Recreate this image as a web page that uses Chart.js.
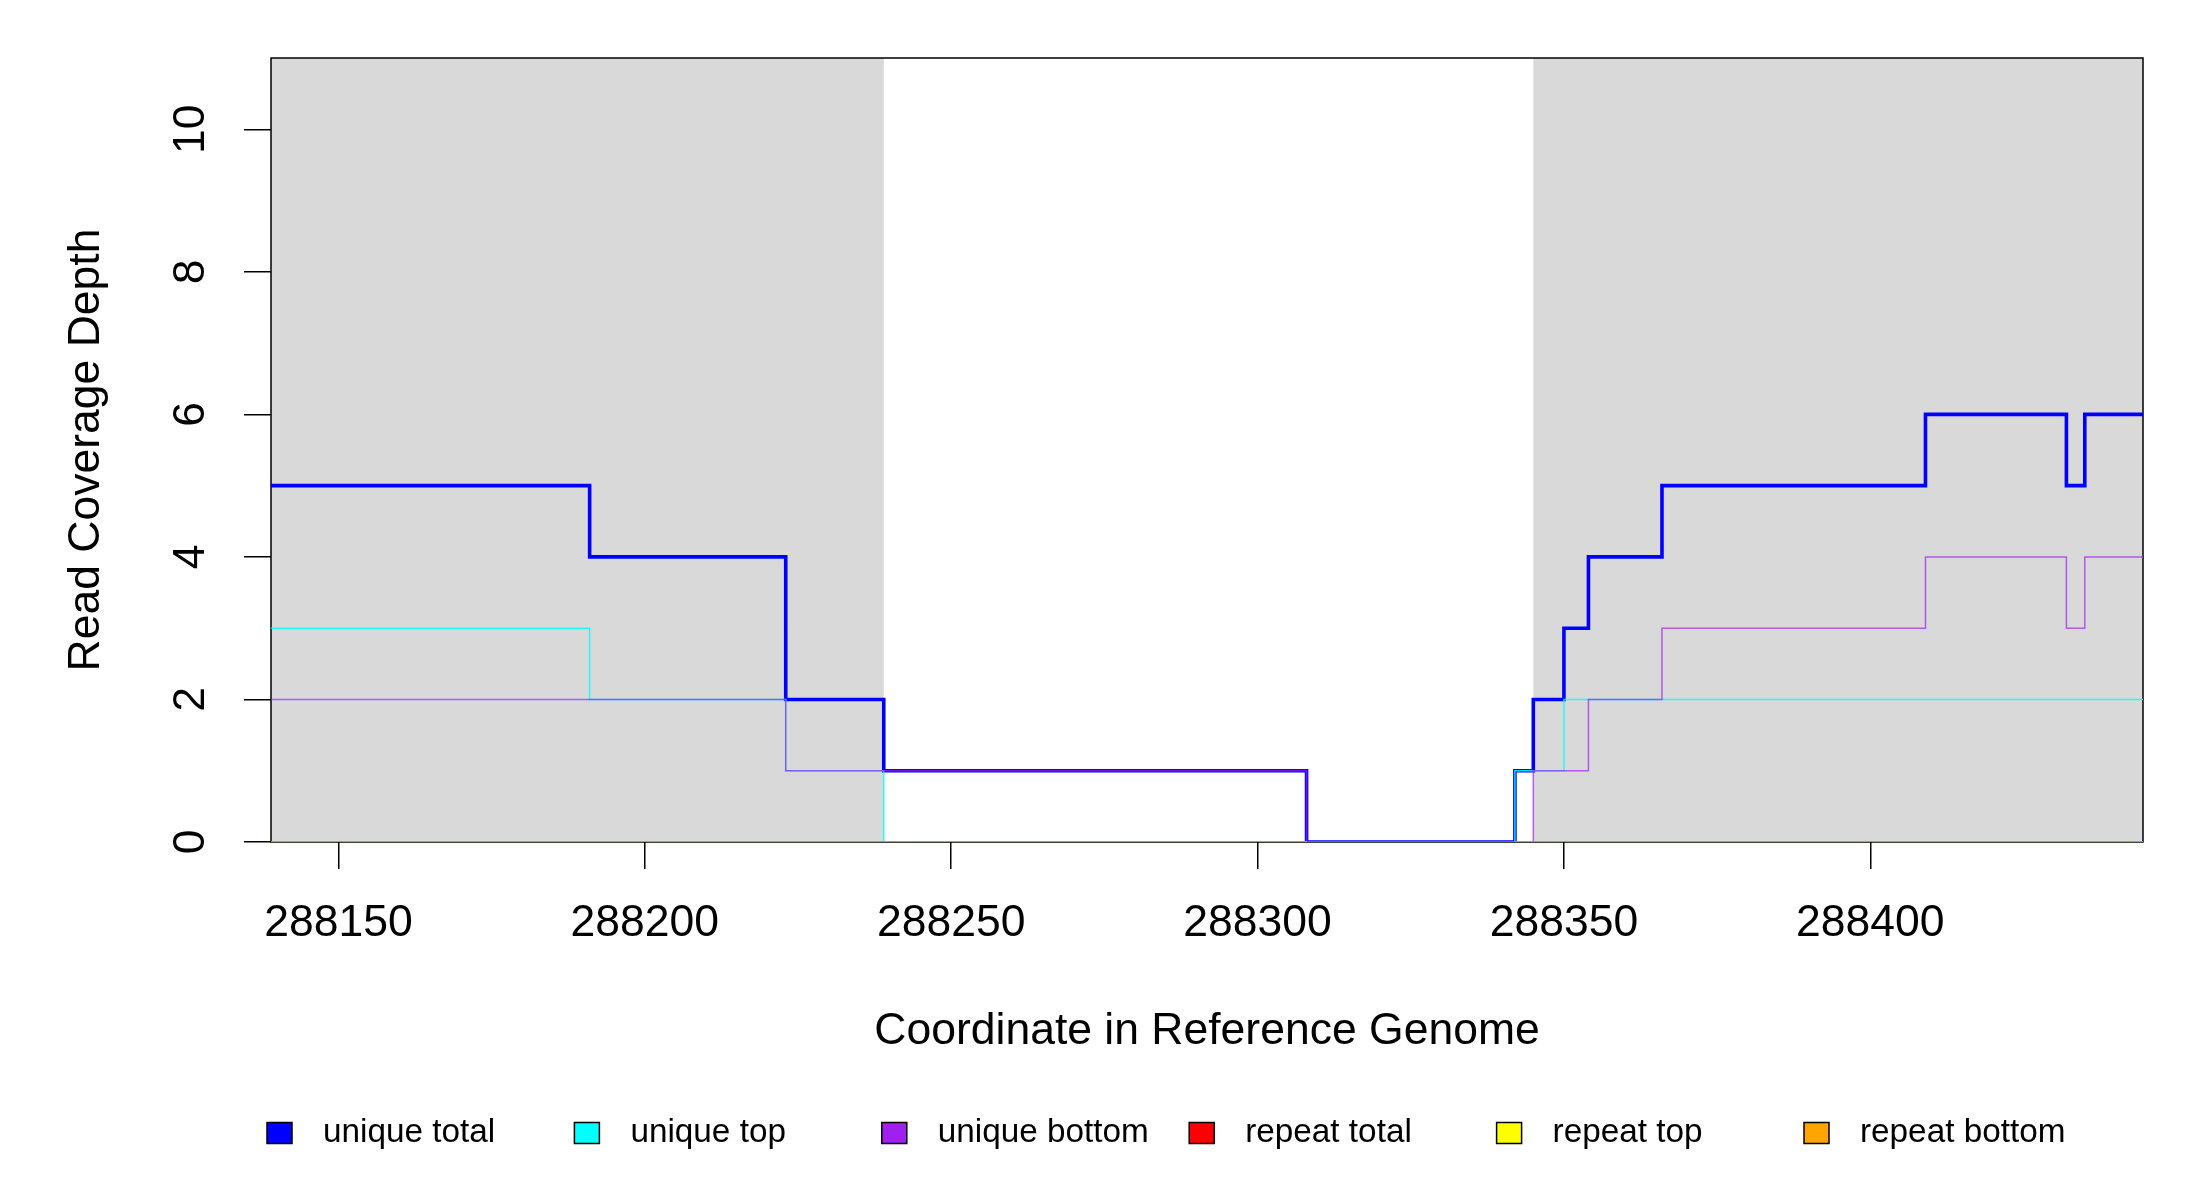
<!DOCTYPE html>
<html>
<head>
<meta charset="utf-8">
<title>Read Coverage Depth</title>
<script src="https://cdn.jsdelivr.net/npm/chart.js@4.4.1/dist/chart.umd.min.js"></script>
<style>
  html, body { margin: 0; padding: 0; background: #ffffff; }
  #wrap { width: 2200px; height: 1200px; }
</style>
</head>
<body>
<div id="wrap"><canvas id="coverageChart" width="2200" height="1200"></canvas></div>
<script>
// step positions (start of each step) and depth values
const totalX = [288139, 288191, 288223, 288239, 288308, 288342, 288345, 288350, 288354, 288366, 288409, 288432, 288435, 288444.5];
const totalY = [5, 4, 2, 1, 0, 1, 2, 3, 4, 5, 6, 5, 6, 6];

const topX = [288139, 288191, 288223, 288239, 288342, 288350, 288444.5];
const topY = [3, 2, 1, 0, 1, 2, 2];

const bottomX = [288139, 288223, 288308, 288345, 288354, 288366, 288409, 288432, 288435, 288444.5];
const bottomY = [2, 1, 0, 1, 2, 3, 4, 3, 4, 4];

// repeat reads: zero where present, no data in the middle stretch
const repeatX = [288139, 288308, 288325, 288342, 288444.5];
const repeatTotal = [0, 0, null, 0, 0];
const repeatTop = [0, 0, null, 0, 0];
const repeatBottom = [0, 0, null, 0, 0];

// shaded regions
const shadeStart = [288139, 288345];
const shadeEnd = [288239, 288444.5];

const xTicks = [288150, 288200, 288250, 288300, 288350, 288400];
const yTicks = [0, 2, 4, 6, 8, 10];

const seriesNames = ['unique total', 'unique top', 'unique bottom', 'repeat total', 'repeat top', 'repeat bottom'];
const seriesColors = ['#0000FF', '#00FFFF', '#A020F0', '#FF0000', '#FFFF00', '#FFA500'];
const lineColors = ['#0000FF', 'rgba(0,255,255,0.85)', 'rgba(160,32,240,0.7)', 'rgba(255,0,0,0.7)', 'rgba(255,255,0,0.7)', 'rgba(250,140,0,0.95)'];

const FONT = '"Liberation Sans", Arial, Helvetica, sans-serif';

function toPoints(xs, ys) {
    return xs.map((x, i) => ({ x: x, y: ys[i] }));
}

const seriesData = [
    toPoints(totalX, totalY),
    toPoints(topX, topY),
    toPoints(bottomX, bottomY),
    toPoints(repeatX, repeatTotal),
    toPoints(repeatX, repeatTop),
    toPoints(repeatX, repeatBottom)
];

// gray bands and the plot box, under the lines
const backgroundPlugin = {
    id: 'backgroundPlugin',
    beforeDatasetsDraw(chart) {
        const ctx = chart.ctx;
        const area = chart.chartArea;
        const xs = chart.scales.x;
        ctx.save();
        ctx.fillStyle = '#D9D9D9';
        for (let i = 0; i < shadeStart.length; i++) {
            const x0 = xs.getPixelForValue(shadeStart[i]);
            const x1 = xs.getPixelForValue(shadeEnd[i]);
            ctx.fillRect(x0, area.top, x1 - x0, area.bottom - area.top);
        }
        ctx.strokeStyle = '#000000';
        ctx.lineWidth = 1.5;
        ctx.strokeRect(area.left, area.top, area.right - area.left, area.bottom - area.top);
        ctx.restore();
    }
};

// tick labels, axis titles and legend, drawn the way R lays them out
const textPlugin = {
    id: 'textPlugin',
    afterDraw(chart) {
        const ctx = chart.ctx;
        const area = chart.chartArea;
        const xs = chart.scales.x;
        const ys = chart.scales.y;
        ctx.save();
        ctx.fillStyle = '#000000';
        ctx.font = '44.5px ' + FONT;
        ctx.textAlign = 'center';
        ctx.textBaseline = 'middle';

        xTicks.forEach(v => {
            ctx.fillText(String(v), xs.getPixelForValue(v), 924);
        });

        yTicks.forEach(v => {
            ctx.save();
            ctx.translate(192, ys.getPixelForValue(v));
            ctx.rotate(-Math.PI / 2);
            ctx.fillText(String(v), 0, 0);
            ctx.restore();
        });

        ctx.fillText('Coordinate in Reference Genome', (area.left + area.right) / 2, 1032);

        ctx.save();
        ctx.translate(87, (area.top + area.bottom) / 2);
        ctx.rotate(-Math.PI / 2);
        ctx.fillText('Read Coverage Depth', 0, 0);
        ctx.restore();

        // legend
        ctx.font = '33.3px ' + FONT;
        ctx.textAlign = 'left';
        const legendY = 1133;
        seriesNames.forEach((name, i) => {
            const left = 267 + i * 307.4;
            ctx.fillStyle = seriesColors[i];
            ctx.fillRect(left, legendY - 10.5, 25, 21);
            ctx.strokeStyle = '#000000';
            ctx.lineWidth = 1.5;
            ctx.strokeRect(left, legendY - 10.5, 25, 21);
            ctx.fillStyle = '#000000';
            ctx.fillText(name, left + 56, legendY);
        });
        ctx.restore();
    }
};

const datasets = seriesData.map((pts, i) => ({
    label: seriesNames[i],
    data: pts,
    borderColor: lineColors[i],
    backgroundColor: lineColors[i],
    borderWidth: i === 0 ? 3.6 : (i > 2 ? 2.2 : 1.5),
    stepped: 'before',
    pointRadius: 0,
    fill: false,
    spanGaps: false,
    order: 6 - i
}));

const ctx = document.getElementById('coverageChart').getContext('2d');
const coverageChart = new Chart(ctx, {
    type: 'line',
    data: { datasets: datasets },
    options: {
        responsive: false,
        animation: false,
        devicePixelRatio: 1,
        layout: { padding: { left: 0, right: 57, top: 58, bottom: 0 } },
        plugins: {
            legend: { display: false },
            tooltip: { enabled: false }
        },
        scales: {
            x: {
                type: 'linear',
                min: 288139,
                max: 288444.5,
                afterBuildTicks: scale => { scale.ticks = xTicks.map(v => ({ value: v })); },
                afterFit: scale => { scale.height = 358; },
                ticks: { display: false },
                border: { display: false },
                grid: { drawOnChartArea: false, drawTicks: true, tickLength: 27, color: '#000000', lineWidth: 1.5 }
            },
            y: {
                type: 'linear',
                min: 0,
                max: 11,
                afterBuildTicks: scale => { scale.ticks = yTicks.map(v => ({ value: v })); },
                afterFit: scale => { scale.width = 271; },
                ticks: { display: false },
                border: { display: false },
                grid: { drawOnChartArea: false, drawTicks: true, tickLength: 27, color: '#000000', lineWidth: 1.5 }
            }
        }
    },
    plugins: [backgroundPlugin, textPlugin]
});
</script>
</body>
</html>
